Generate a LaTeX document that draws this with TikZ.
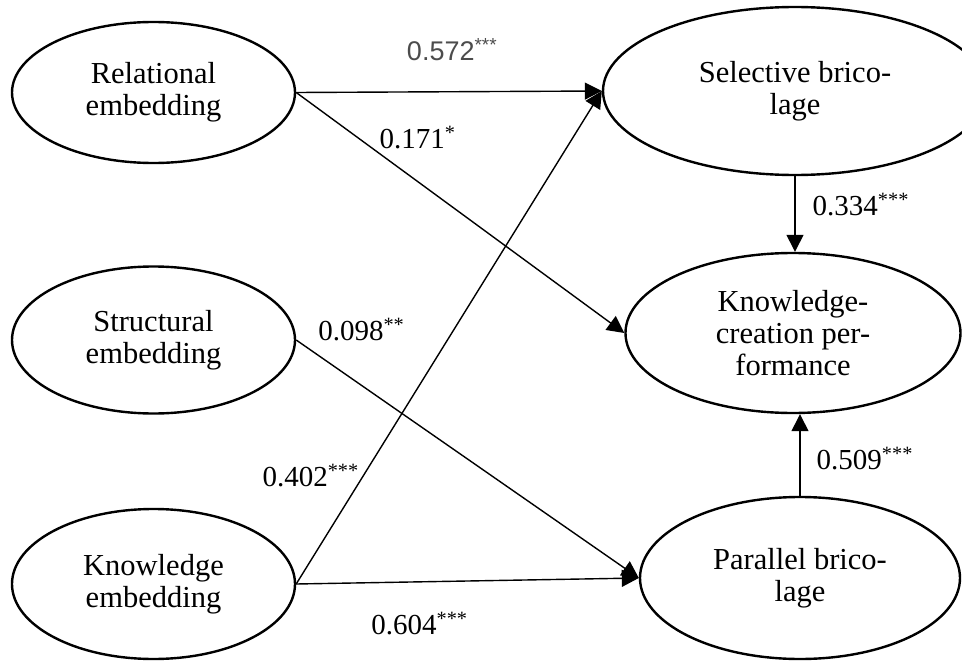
\documentclass[tikz,border=0pt]{standalone}
\usepackage{fontspec}
\setmainfont{Liberation Serif}
\setsansfont{Liberation Sans}
\usepackage{tikz}
\usetikzlibrary{arrows.meta,shapes.geometric}

\begin{document}
\begin{tikzpicture}[x=1pt,y=-1pt,>={Triangle[length=17pt,width=17pt]},
  font=\fontsize{29}{32}\selectfont,
  latent/.style={draw,ellipse,line width=2.4pt,align=center,inner sep=0pt,font=\fontsize{30.5}{32}\selectfont},
  link/.style={->,line width=1.4pt},
  coef/.style={inner sep=3pt}]
  \useasboundingbox (0,0) rectangle (962,661);
  \clip (0,0) rectangle (962,661);
  % constructs
  \node[latent,minimum width=283pt,minimum height=141pt] (rel) at (153.5,92.5) {Relational\\embedding};
  \node[latent,minimum width=283pt,minimum height=147pt] (str) at (153.5,340) {Structural\\embedding};
  \node[latent,minimum width=283pt,minimum height=150pt] (kno) at (153.5,584) {Knowledge\\embedding};
  \node[latent,minimum width=384pt,minimum height=168pt] (sel) at (795,91) {Selective brico-\\lage};
  \node[latent,minimum width=335pt,minimum height=160pt] (kcp) at (793,333) {Knowledge-\\creation per-\\formance};
  \node[latent,minimum width=320pt,minimum height=162pt] (par) at (800,578) {Parallel brico-\\lage};
  % paths
  \draw[link] (rel.east) --node[coef,pos=0.51,above=27pt,text=black!70,font=\fontsize{27}{32}\selectfont\sffamily] (c572) {0.572\textsuperscript{***}} (sel.west);
  \draw[link] (rel.east) --node[coef,pos=0.37,above=29pt] (c171) {0.171\textsuperscript{*}} (kcp.west);
  \draw[link] (str.east) --node[coef,pos=0.19,above=41pt] (c098) {0.098\textsuperscript{**}} (par.west);
  \draw[link] (kno.east) --node[coef,pos=0.22,left=1pt] (c402) {0.402\textsuperscript{***}} (sel.west);
  \draw[link] (kno.east) --node[coef,pos=0.36,below=27pt] (c604) {0.604\textsuperscript{***}} (par.west);
  \draw[link] (sel.south) --node[coef,pos=0.38,right=14pt] (c334) {0.334\textsuperscript{***}} (sel.south |- kcp.north);
  \draw[link] (par.north) --node[coef,pos=0.46,right=13pt] (c509) {0.509\textsuperscript{***}} (par.north |- kcp.south);
\end{tikzpicture}
\end{document}
